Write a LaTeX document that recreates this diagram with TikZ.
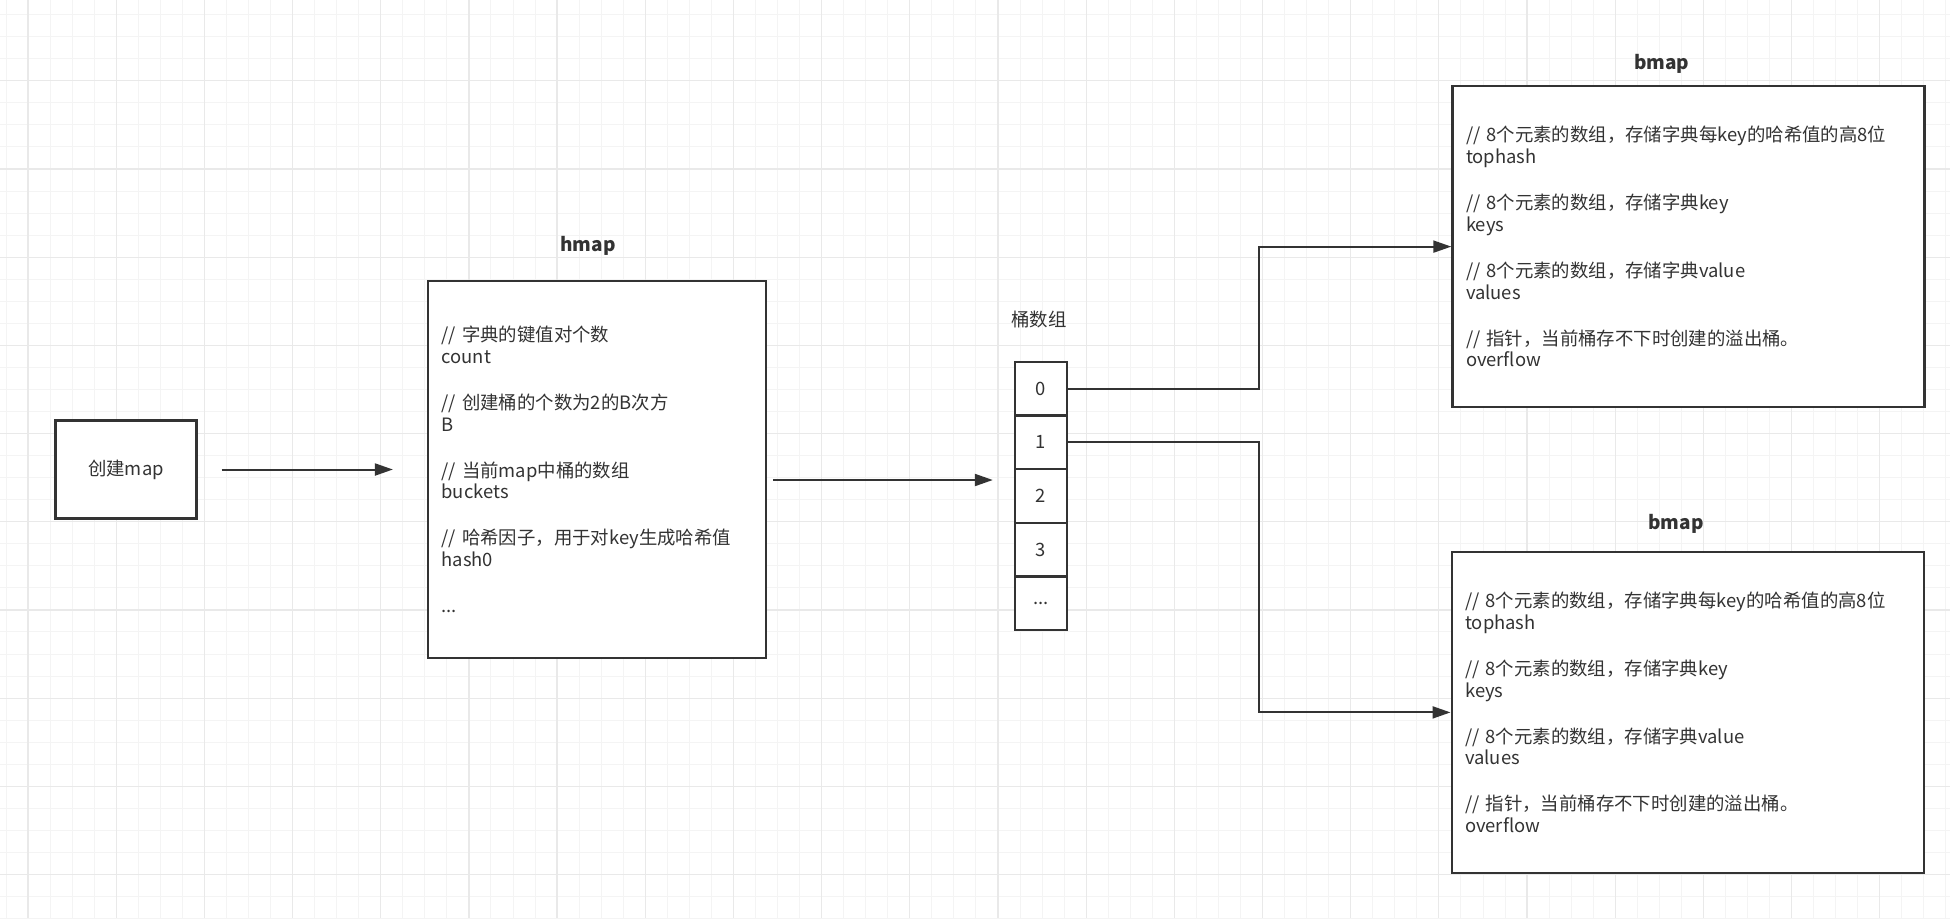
\documentclass[tikz,border=0pt]{standalone}
\usepackage{fontspec}
\newfontfamily\cjkfont{Noto Sans CJK SC}
\usepackage{xcolor}
\usepackage{tikz}
\usetikzlibrary{arrows.meta, positioning}

\definecolor{ink}{HTML}{333333}
\definecolor{gridminor}{HTML}{F4F4F4}
\definecolor{gridmajor}{HTML}{E9E9E9}

\tikzset{
    plainbox/.style={draw=ink, line width=1.1pt, fill=white, text=ink, inner sep=0pt},
    fieldbox/.style={plainbox, align=left, inner xsep=6.8pt},
    bucket/.style={plainbox, minimum width=26.2pt, minimum height=26.85pt, outer sep=0pt},
    boxtitle/.style={text=ink, font=\cjkfont\bfseries\fontsize{9.5}{11}\selectfont},
    link/.style={draw=ink, line width=1pt, -{Triangle[length=9pt, width=6pt]}},
}

\begin{document}
\begin{tikzpicture}[
        x=1pt, y=-1pt, % work from the top left corner, as the sketch does
        font=\cjkfont\fontsize{9.2}{10.9}\selectfont,
        text=ink,
    ]

    % --- INTERNAL FIGURE PARAMETERS ---
    \pgfmathsetmacro{\figwidth}{975}
    \pgfmathsetmacro{\figheight}{459}
    \pgfmathsetmacro{\gridstep}{11.0225}
    \pgfmathsetmacro{\groupgap}{12.1}
    \pgfmathsetmacro{\bucketx}{520.5}
    \pgfmathsetmacro{\buckety}{194.3}
    \pgfmathsetmacro{\cellh}{26.85}
    \pgfmathsetmacro{\bendx}{629.5}

    % Background
    \fill[white] (0,0) rectangle (\figwidth,\figheight);
    \useasboundingbox (0,0) rectangle (\figwidth,\figheight);

    % Grid lines - minor
    \foreach \i in {0,...,88}{
        \draw[gridminor, line width=0.5pt] ({3+\i*\gridstep},0) -- ++(0,\figheight);
    }
    \foreach \j in {0,...,41}{
        \draw[gridminor, line width=0.5pt] (0,{7.35+\j*\gridstep}) -- ++(\figwidth,0);
    }

    % Grid lines - major
    \foreach \i in {0,...,21}{
        \draw[gridmajor, line width=0.6pt] ({14+\i*4*\gridstep},0) -- ++(0,\figheight);
    }
    \foreach \j in {0,...,9}{
        \draw[gridmajor, line width=0.6pt] (0,{40.42+\j*4*\gridstep}) -- ++(\figwidth,0);
    }

    % Start box
    \node[plainbox, minimum width=70.5pt, minimum height=49pt] (create) at (63,234.75) {创建map};

    % hmap header
    \node[fieldbox, text width=155.4pt, minimum height=188.5pt] (hmap) at (298.5,234.75)
        {// 字典的键值对个数\\
         count\\[\groupgap pt]
         // 创建桶的个数为2的B次方\\
         B\\[\groupgap pt]
         // 当前map中桶的数组\\
         buckets\\[\groupgap pt]
         // 哈希因子，用于对key生成哈希值\\
         hash0\\[\groupgap pt]
         ...};
    \node[boxtitle] (hmaptitle) at (294,123) {hmap};

    % Bucket array
    \foreach \n in {0,...,3}{
        \node[bucket] (c\n) at (\bucketx,{\buckety+\n*\cellh}) {\n};
    }
    \node[bucket] (c4) at (\bucketx,{\buckety+4*\cellh}) {...};
    \node (buckettitle) at (519.5,159.7) {桶数组};

    % Two bmap buckets
    \node[fieldbox, text width=222.4pt, minimum height=160.7pt] (topbmap) at (844.2,123.3)
        {// 8个元素的数组，存储字典每key的哈希值的高8位\\
         tophash\\[\groupgap pt]
         // 8个元素的数组，存储字典key\\
         keys\\[\groupgap pt]
         // 8个元素的数组，存储字典value\\
         values\\[\groupgap pt]
         // 指针，当前桶存不下时创建的溢出桶。\\
         overflow};
    \node[boxtitle] (toptitle) at (830.8,31.7) {bmap};

    \node[fieldbox, text width=222.4pt, minimum height=160.7pt] (lowbmap) at (843.8,356.2)
        {// 8个元素的数组，存储字典每key的哈希值的高8位\\
         tophash\\[\groupgap pt]
         // 8个元素的数组，存储字典key\\
         keys\\[\groupgap pt]
         // 8个元素的数组，存储字典value\\
         values\\[\groupgap pt]
         // 指针，当前桶存不下时创建的溢出桶。\\
         overflow};
    \node[boxtitle] (lowtitle) at (838,261.7) {bmap};

    % Connectors
    \draw[link, shorten <=12pt, shorten >=17pt] (create) -- (hmap);

    \coordinate (hout) at ([yshift=-5.25pt]hmap.east);
    \draw[link, shorten <=3pt, shorten >=11pt] (hout) -- (hout -| c2.west);

    \draw[link] (c0.east) -- (\bendx,\buckety) |- (topbmap.west);
    \draw[link] (c1.east) -- (\bendx,{\buckety+\cellh}) |- (lowbmap.west);

\end{tikzpicture}
\end{document}
